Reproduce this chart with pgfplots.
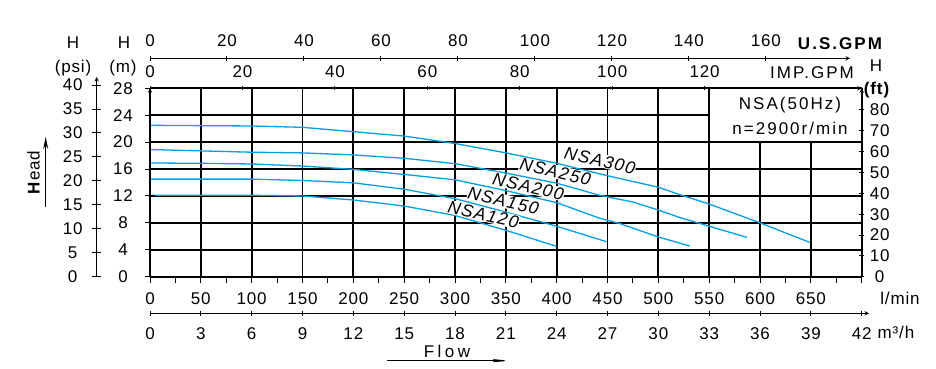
\documentclass[border=0pt]{standalone}
\usepackage{fontspec}
\setmainfont{Liberation Sans}[LetterSpace=5]
\newfontfamily\widefont{Liberation Sans}[LetterSpace=12]
\newfontfamily\flowfont{Liberation Sans}[LetterSpace=20]
\newfontfamily\labfont{Liberation Sans}[LetterSpace=8]
\usepackage{pgfplots}
\pgfplotsset{compat=1.18}
\usetikzlibrary{arrows.meta}
\definecolor{curveblue}{RGB}{0,160,230}

\pgfplotsset{
  every axis/.append style={font=\fontsize{17}{19}\selectfont,
    /pgf/number format/assume math mode=true},
  aux/.style={scale only axis, axis line style={-, black, line width=1pt},
    tick align=outside, tick style={black, line width=1pt},
    tick label style={font=\fontsize{17}{19}\selectfont}},
  curve/.style={color=curveblue, line width=1.3pt, line join=round},
}
\tikzset{lab/.style={rotate=-13, fill=white, inner sep=0.6pt, font=\fontsize{17.5}{19}\labfont\itshape}}

\begin{document}
\begin{tikzpicture}[x=1pt,y=1pt]
\useasboundingbox (0,0) rectangle (936,369);

% ---------- main axis ----------
\begin{axis}[
  at={(150pt,92.3pt)}, anchor=south west, scale only axis,
  width=711.7pt, height=188.4pt,
  xmin=0, xmax=700, ymin=0, ymax=28,
  xtick={0,50,...,700},
  xticklabels={0,50,100,150,200,250,300,350,400,450,500,550,600,650,{}},
  minor x tick num=1,
  ytick={0,4,...,28}, yticklabels={},
  ytick style={draw=none},
  tick pos=left, tick align=outside,
  major tick length=6pt, minor tick length=6pt,
  xtick style={black, line width=1pt},
  xticklabel style={anchor=center, yshift=-16.3pt},
  grid=major, major grid style={black, line width=1.8pt},
  axis line style={black, line width=1.2pt},
]
\filldraw[fill=white, draw=black, line width=1.8pt] (axis cs:550,20) rectangle (axis cs:700,28);

% NSA300
\addplot[curve] coordinates {(0,22.5) (50,22.45) (100,22.4) (150,22.2) (200,21.55) (250,20.9) (300,19.8) (350,18.4) (400,16.85) (450,15.0) (500,13.3) (521,12.2) (550,10.8) (600,8.0) (649,5.1)};
% NSA250
\addplot[curve] coordinates {(0,18.9) (50,18.7) (100,18.5) (150,18.4) (200,18.1) (250,17.6) (300,16.8) (350,15.4) (400,13.9) (442,12.1) (475,11.1) (500,9.9) (521,8.8) (550,7.5) (587,5.85)};
% NSA200
\addplot[curve] coordinates {(0,16.9) (50,16.85) (100,16.75) (150,16.45) (200,15.95) (250,15.2) (300,14.4) (350,12.8) (400,11.0) (442,8.7) (462,7.9) (500,5.9) (531,4.56)};
% NSA150
\addplot[curve] coordinates {(0,14.5) (50,14.5) (100,14.5) (150,14.3) (200,13.95) (250,13.0) (300,11.6) (350,9.6) (400,7.5) (449,5.2)};
% NSA120
\addplot[curve] coordinates {(0,12.1) (50,12.1) (100,12.1) (150,12.0) (200,11.4) (250,10.5) (300,9.1) (350,6.9) (400,4.5)};

\node[lab] at (axis cs:442.5,17.3) {NSA300};
\node[lab] at (axis cs:398.7,15.6) {NSA250};
\node[lab] at (axis cs:372,13.4) {NSA200};
\node[lab] at (axis cs:347.5,11.25) {NSA150};
\node[lab] at (axis cs:327.8,9.25) {NSA120};
\end{axis}

% ---------- H (m) axis ----------
\begin{axis}[aux,
  at={(150pt,92.3pt)}, anchor=south west, width=1pt, height=188.4pt,
  xmin=0, xmax=1, ymin=0, ymax=28,
  axis x line=none, axis y line=left, xtick=\empty,
  ytick={0,4,...,28}, major tick length=10pt,
  yticklabel style={anchor=center, xshift=-22pt},
]
\end{axis}

% ---------- H (psi) axis ----------
\begin{axis}[aux,
  at={(96.7pt,92.3pt)}, anchor=south west, width=1pt, height=199.7pt,
  xmin=0, xmax=1, ymin=0, ymax=41.69,
  axis x line=none, axis y line=left, xtick=\empty,
  ytick={0,5,...,40}, major tick length=8.7pt,
  yticklabel style={anchor=center, xshift=-19.7pt},
]
\end{axis}

% ---------- H (ft) axis ----------
\begin{axis}[aux,
  at={(861.7pt,92.3pt)}, anchor=south east, width=1pt, height=188.4pt,
  xmin=0, xmax=1, ymin=0, ymax=90.4,
  axis x line=none, axis y line=right, xtick=\empty,
  ytick={0,10,...,80}, major tick length=5.3pt,
  yticklabel style={anchor=center, xshift=15.3pt},
]
\end{axis}

% ---------- U.S. GPM axis ----------
\begin{axis}[aux,
  at={(150pt,309.7pt)}, anchor=south west, width=700pt, height=1pt,
  xmin=0, xmax=181.85, ymin=0, ymax=1,
  axis y line=none, axis x line=top, ytick=\empty,
  xtick={0,20,...,160}, major tick length=5.5pt,
  xticklabel style={anchor=center, yshift=14.8pt},
]
\end{axis}

% ---------- IMP. GPM axis ----------
\begin{axis}[aux,
  at={(150pt,279.7pt)}, anchor=south west, width=711.7pt, height=1pt,
  xmin=0, xmax=153.98, ymin=0, ymax=1,
  axis y line=none, axis x line=top, ytick=\empty,
  xtick={0,20,...,120}, major tick length=4.3pt,
  xticklabel style={anchor=center, yshift=14.8pt},
]
\end{axis}

% ---------- m3/h axis ----------
\begin{axis}[aux,
  at={(150pt,55.7pt)}, anchor=south west, width=719pt, height=1pt,
  xmin=0, xmax=42.43, ymin=0, ymax=1,
  axis y line=none, axis x line=bottom, ytick=\empty,
  xtick={0,3,...,42}, major tick length=4.5pt,
  xticklabel style={anchor=center, yshift=-17.9pt},
]
\end{axis}

% ---------- texts ----------
\begin{scope}[font=\fontsize{17}{19}\selectfont]
\node at (73,326) {H};
\node at (73,301) {(psi)};
\node at (124,326) {H};
\node at (123,301) {(m)};
\node at (876,303) {H};
\node at (877,279) {\textbf{(ft)}};
\node at (790,264) {\widefont NSA(50Hz)};
\node at (790,241) {\widefont n=2900r/min};
\node at (840,325.5) {\widefont\bfseries U.S.GPM};
\node at (812,296) {\widefont IMP.GPM};
\node at (900,71) {l/min};
\node at (896,36.3) {m³/h};
\node at (447,18) {\flowfont Flow};
\node[rotate=90] at (33.5,196.5) {\textbf{H}ead};
\end{scope}
\draw[line width=1pt, -{Stealth[length=22pt, width=4pt]}] (387,8.3) -- (510,8.3);
\draw[line width=1pt, -{Stealth[length=12pt, width=5pt]}] (45.7,162) -- (45.7,232);
\end{tikzpicture}
\end{document}
